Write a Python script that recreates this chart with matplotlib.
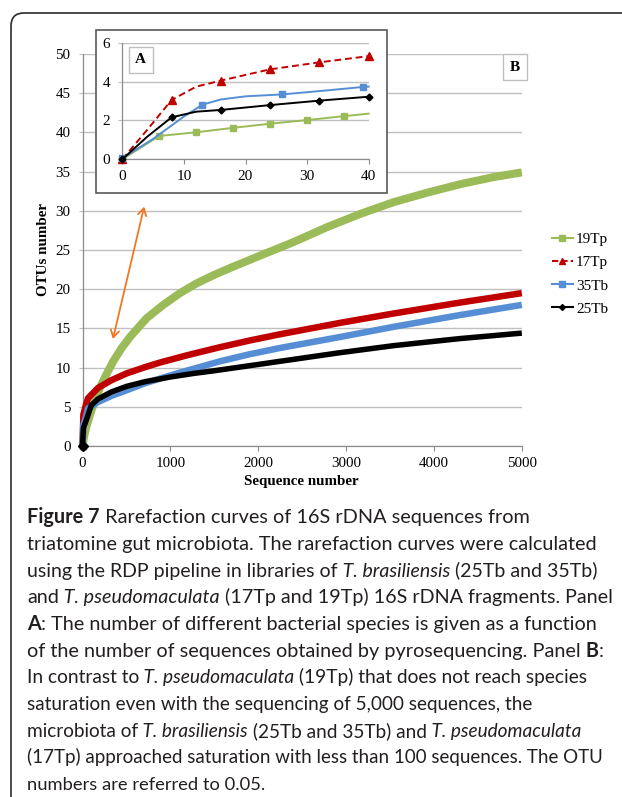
import matplotlib
matplotlib.use("Agg")
import matplotlib.pyplot as plt
from matplotlib.patches import Rectangle, FancyBboxPatch, FancyArrowPatch
from matplotlib.lines import Line2D
from matplotlib import font_manager

W, H = 622, 797
DPI = 100

# ---------------- data ----------------
series_names = ["19Tp", "17Tp", "35Tb", "25Tb"]

# Panel B (main): sequence number vs OTUs
x_19Tp = [0, 20, 40, 100, 200, 275, 350, 446, 540, 730, 919, 1109, 1299, 1494, 1678, 1873, 2057, 2247, 2400, 2780, 3160, 3540, 3920, 4300, 4680, 5000]
y_19Tp = [0, 1.3, 2.3, 4.5, 7.5, 9.2, 10.8, 12.5, 13.9, 16.3, 18.0, 19.5, 20.75, 21.8, 22.7, 23.6, 24.45, 25.3, 26.0, 27.9, 29.6, 31.1, 32.3, 33.4, 34.3, 34.9]

x_17Tp = [0, 10, 40, 63, 176, 330, 500, 710, 882, 1200, 1564, 1900, 2247, 2600, 2929, 3540, 4300, 5000]
y_17Tp = [0, 4.0, 5.3, 6.1, 7.4, 8.4, 9.25, 10.05, 10.65, 11.6, 12.6, 13.45, 14.25, 15.0, 15.7, 16.9, 18.3, 19.5]

x_35Tb = [0, 10, 40, 63, 176, 330, 500, 710, 882, 1090, 1564, 1900, 2247, 2929, 3541, 4295, 5000]
y_35Tb = [0, 2.7, 3.7, 4.8, 5.6, 6.4, 7.1, 8.0, 8.6, 9.3, 10.8, 11.7, 12.5, 13.9, 15.2, 16.7, 18.0]

x_25Tb = [0, 10, 40, 100, 176, 330, 500, 710, 1000, 1261, 1500, 2000, 2247, 2929, 3541, 4295, 5000]
y_25Tb = [0, 2.3, 3.2, 5.2, 6.0, 6.9, 7.6, 8.2, 8.8, 9.25, 9.6, 10.4, 10.8, 11.9, 12.8, 13.7, 14.4]

# Panel A (inset, first 40 sequences)
ix_19Tp = [0, 6, 12, 18, 24, 30, 36, 40]
iy_19Tp = [0, 1.2, 1.39, 1.62, 1.83, 2.02, 2.22, 2.35]
im_19Tp = [0, 1, 2, 3, 4, 5, 6]

ix_17Tp = [0, 4, 8, 12, 16, 24, 32, 40]
iy_17Tp = [0, 1.5, 3.05, 3.74, 4.05, 4.63, 4.99, 5.31]
im_17Tp = [0, 2, 4, 5, 6, 7]

ix_35Tb = [0, 5, 10, 13, 16, 20, 26, 32, 39, 40]
iy_35Tb = [0.05, 1.05, 2.2, 2.81, 3.08, 3.24, 3.34, 3.51, 3.72, 3.74]
im_35Tb = [0, 3, 6, 8]

ix_25Tb = [0, 4, 8, 12, 16, 24, 32, 40]
iy_25Tb = [0, 1.15, 2.16, 2.45, 2.54, 2.79, 3.02, 3.22]
im_25Tb = [0, 2, 4, 5, 6, 7]

main_xticks = [0, 1000, 2000, 3000, 4000, 5000]
main_yticks = [0, 5, 10, 15, 20, 25, 30, 35, 40, 45, 50]
inset_xticks = [0, 10, 20, 30, 40]
inset_yticks = [0, 2, 4, 6]

caption_lines = [
    [("Figure 7", "b"), (" Rarefaction curves of 16S rDNA sequences from", "n")],
    [("triatomine gut microbiota. The rarefaction curves were calculated", "n")],
    [("using the RDP pipeline in libraries of", "n"), (" T. brasiliensis", "i"), (" (25Tb and 35Tb)", "n")],
    [("and", "n"), (" T. pseudomaculata", "i"), (" (17Tp and 19Tp) 16S rDNA fragments. Panel", "n")],
    [("A", "b"), (": The number of different bacterial species is given as a function", "n")],
    [("of the number of sequences obtained by pyrosequencing. Panel", "n"), (" B", "b"), (":", "n")],
    [("In contrast to", "n"), (" T. pseudomaculata", "i"), (" (19Tp) that does not reach species", "n")],
    [("saturation even with the sequencing of 5,000 sequences, the", "n")],
    [("microbiota of", "n"), (" T. brasiliensis", "i"), (" (25Tb and 35Tb) and", "n"), (" T. pseudomaculata", "i")],
    [("(17Tp) approached saturation with less than 100 sequences. The OTU", "n")],
    [("numbers are referred to 0.05.", "n")],
]
# right end (px) of every caption line in the reference, used only to pick the font size
caption_line_ends = [527.8, 595.2, 595.5, 611, 597, 607, 587, 531.7, 580, 602, 264]

# ---------------- styles ----------------
C_GREEN = "#9BBB59"
C_RED = "#C00000"
C_BLUE = "#558ED5"
C_BLACK = "#000000"
C_GRID = "#C0C0C0"
C_AXIS = "#8C8C8C"
SERIF = "Liberation Serif"
CAP_COLOR = "#231F20"
CAP_LEFT = 27.0

plt.rcParams["font.family"] = SERIF

fig = plt.figure(figsize=(W / DPI, H / DPI), dpi=DPI)


def fx(px):
    return px / W


def fy(py):
    return 1 - py / H


def pax(x0, y0, x1, y1):
    return [fx(x0), fy(y1), (x1 - x0) / W, (y1 - y0) / H]


def px2pt(p):
    return p * 72 / DPI


# outer rounded frame
frame = FancyBboxPatch((11, -40), 700, H - 13 + 40, boxstyle="round,pad=0,rounding_size=13",
                       transform=None, facecolor="none", edgecolor="#2b2b2b", linewidth=1.2,
                       zorder=0)
fig.patches.append(frame)

# ---------------- main axes (panel B) ----------------
ax = fig.add_axes(pax(82.5, 54, 521.8, 446))
ax.set_xlim(0, 5000)
ax.set_ylim(0, 50)
for s in ["top", "right"]:
    ax.spines[s].set_visible(False)
for s in ["left", "bottom"]:
    ax.spines[s].set_color(C_AXIS)
    ax.spines[s].set_linewidth(0.9)
ax.set_xticks(main_xticks)
ax.set_yticks(main_yticks)
ax.tick_params(axis="y", direction="out", length=px2pt(4), color=C_GRID, width=0.8,
               pad=px2pt(8), labelsize=10.8)
ax.tick_params(axis="x", direction="out", length=px2pt(5), color=C_AXIS, width=0.8,
               pad=px2pt(6), labelsize=10.8)
ax.yaxis.grid(True, color=C_GRID, linewidth=1.0)
ax.set_axisbelow(True)

main_series = [
    (x_19Tp, y_19Tp, C_GREEN, px2pt(8), "s"),
    (x_17Tp, y_17Tp, C_RED, px2pt(6.5), "^"),
    (x_35Tb, y_35Tb, C_BLUE, px2pt(6.5), "s"),
    (x_25Tb, y_25Tb, C_BLACK, px2pt(5.5), "D"),
]
for (xs, ys, c, lw, m), name in zip(main_series, series_names):
    ax.plot(xs, ys, color=c, linewidth=lw, solid_capstyle="butt", solid_joinstyle="round",
            marker=m, markevery=[0], markersize=5, clip_on=False, zorder=3)

fig.text(fx(301.6), fy(481.7), "Sequence number", ha="center", va="center",
         fontsize=10.8, fontweight="bold")
fig.text(fx(43.7), fy(250), "OTUs number", ha="center", va="center", rotation=90,
         fontsize=10.8, fontweight="bold")

# B label box
fig.patches.append(Rectangle((502.8, H - 80), 23.8, 25.7, transform=None, facecolor="white",
                             edgecolor="#BFBFBF", linewidth=1.0, zorder=5))
fig.text(fx(514.7), fy(67.2), "B", ha="center", va="center", fontsize=11, fontweight="bold",
         zorder=6)

# legend
handles = [
    Line2D([], [], color=C_GREEN, linewidth=1.5, marker="s", markersize=4.5),
    Line2D([], [], color=C_RED, linewidth=1.5, linestyle=(0, (3, 1.5)), marker="^", markersize=4.5),
    Line2D([], [], color=C_BLUE, linewidth=1.5, marker="s", markersize=4.5),
    Line2D([], [], color=C_BLACK, linewidth=1.5, marker="D", markersize=3),
]
fig.legend(handles, series_names, loc="upper left",
           bbox_to_anchor=(fx(551.6), fy(232.5)), frameon=False, fontsize=11,
           handlelength=1.4, handletextpad=0.2, labelspacing=0.62, borderpad=0,
           borderaxespad=0)

# orange double arrow
fig.patches.append(FancyArrowPatch(
    (112.3, H - 341.7), (144.8, H - 204), transform=None,
    arrowstyle="<->,head_length=5,head_width=3",
    color="#F07820", linewidth=1.3, zorder=4))

# ---------------- inset (panel A) ----------------
fig.patches.append(Rectangle((96.4, H - 192.7), 290.5, 162.7, transform=None,
                             facecolor="white", edgecolor="#595959", linewidth=1.2, zorder=7))
axi = fig.add_axes(pax(122.3, 42.7, 368.7, 159.3))
axi.set_zorder(8)
axi.patch.set_alpha(0)
axi.set_xlim(0, 40)
axi.set_ylim(0, 6)
for s in ["top", "right"]:
    axi.spines[s].set_visible(False)
for s in ["left", "bottom"]:
    axi.spines[s].set_color(C_AXIS)
    axi.spines[s].set_linewidth(0.9)
axi.set_xticks(inset_xticks)
axi.set_yticks(inset_yticks)
axi.tick_params(axis="y", direction="out", length=px2pt(4), color=C_GRID, width=0.8,
                pad=px2pt(8), labelsize=11)
axi.tick_params(axis="x", direction="out", length=px2pt(5), color=C_AXIS, width=0.8,
                pad=px2pt(6), labelsize=11)
axi.yaxis.grid(True, color=C_GRID, linewidth=1.0)
axi.set_axisbelow(True)

inset_series = [
    (ix_19Tp, iy_19Tp, im_19Tp, C_GREEN, "-", "s", 5),
    (ix_17Tp, iy_17Tp, im_17Tp, C_RED, (0, (3.5, 2)), "^", 5.5),
    (ix_35Tb, iy_35Tb, im_35Tb, C_BLUE, "-", "s", 5),
    (ix_25Tb, iy_25Tb, im_25Tb, C_BLACK, "-", "D", 3.5),
]
for xs, ys, mk, c, ls, m, ms in inset_series:
    axi.plot(xs, ys, color=c, linestyle=ls, linewidth=1.4, marker=m, markevery=mk,
             markersize=ms, clip_on=False, zorder=3)

fig.patches.append(Rectangle((129, H - 72.7), 23.7, 26, transform=None, facecolor="white",
                             edgecolor="#BFBFBF", linewidth=1.0, zorder=9))
fig.text(fx(140.8), fy(59.7), "A", ha="center", va="center", fontsize=11, fontweight="bold",
         zorder=10)

# ---------------- caption ----------------
renderer = fig.canvas.get_renderer()


def run_width(txt, style, size, family):
    t = fig.text(0, 0, txt, fontsize=size, family=family,
                 fontweight="bold" if style == "b" else "normal",
                 fontstyle="italic" if style == "i" else "normal")
    w = t.get_window_extent(renderer).width
    t.remove()
    return w


def font_ok(name):
    try:
        font_manager.findfont(font_manager.FontProperties(family=name),
                              fallback_to_default=False)
        return True
    except Exception:
        return False


# choose the installed sans family whose line widths best match the reference
candidates = ["Lato", "Open Sans", "Noto Sans", "Roboto", "Inter", "Liberation Sans",
              "Liberation Sans Narrow", "DejaVu Sans"]
targets = [e - CAP_LEFT for e in caption_line_ends]
best = None
for fam in candidates:
    if not font_ok(fam):
        continue
    ws = [sum(run_width(t, s, 12.0, fam) for t, s in line) for line in caption_lines]
    k = sum(a * b for a, b in zip(ws, targets)) / sum(a * a for a in ws)
    err = sum((k * a - b) ** 2 for a, b in zip(ws, targets))
    size = 12.0 * k
    if size < 10.5:
        err *= 4
    if best is None or err < best[0]:
        best = (err, fam, size, ws)
_, CAP_FONT, cap_size, base_widths = best

y0 = 523.3
dy = 26.67
for i, line in enumerate(caption_lines):
    # small per-line size correction so that no line runs past the reference line end
    w_at = base_widths[i] * cap_size / 12.0
    f = min(1.02, max(0.94, targets[i] / w_at))
    size_i = cap_size * f
    x = CAP_LEFT
    for txt, style in line:
        t = fig.text(fx(x), fy(y0 + i * dy), txt, fontsize=size_i, family=CAP_FONT,
                     color=CAP_COLOR, va="baseline", ha="left",
                     fontweight="bold" if style == "b" else "normal",
                     fontstyle="italic" if style == "i" else "normal")
        x += t.get_window_extent(renderer).width

fig.savefig("out.png", dpi=DPI)
